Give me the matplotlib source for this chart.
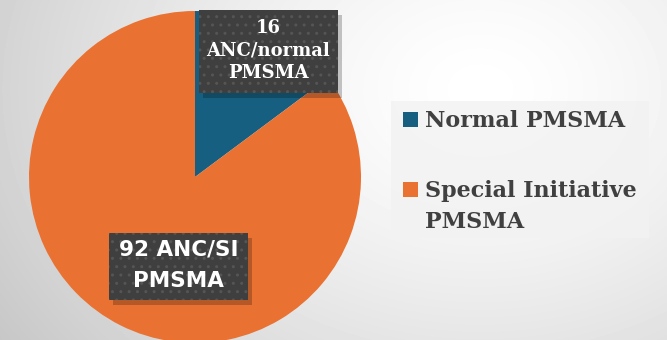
import numpy as np
import matplotlib.pyplot as plt
from matplotlib.patches import Rectangle

labels = ["Normal PMSMA", "Special Initiative\nPMSMA"]
values = [16, 92]
colors = ["#175f80", "#e97132"]
box_texts = ["16\nANC/normal\nPMSMA", "92 ANC/SI\nPMSMA"]

W, H = 667, 340
fig = plt.figure(figsize=(W / 100, H / 100), dpi=100)
ax = fig.add_axes([0, 0, 1, 1])
ax.axis("off")

# radial grey background
yy, xx = np.mgrid[0:H, 0:W]
d = np.hypot(xx - 480, (yy - 250) * 1.3)
d = d / d.max()
bg = 1.0 - 0.22 * d ** 1.4
ax.imshow(bg, cmap="gray", vmin=0, vmax=1, extent=(0, W, H, 0), zorder=0)

# pie
ax.pie(values, colors=colors, startangle=90, counterclock=False,
       center=(195, H - 177), radius=166, frame=False,
       wedgeprops=dict(linewidth=0))
ax.set_xlim(0, W)
ax.set_ylim(0, H)
ax.set_aspect("auto")


def label_box(x0, y0, x1, y1, text, **kw):
    # shadow
    ax.add_patch(Rectangle((x0 + 4, H - y1 - 5), x1 - x0, y1 - y0,
                           facecolor="black", alpha=0.22, linewidth=0, zorder=3))
    ax.add_patch(Rectangle((x0, H - y1), x1 - x0, y1 - y0,
                           facecolor="#3f3f3f", edgecolor="#555555",
                           hatch="..", linewidth=0, zorder=4))
    ax.text((x0 + x1) / 2, H - (y0 + y1) / 2 + 1, text, color="white",
            ha="center", va="center", zorder=5, fontweight="bold", **kw)


label_box(199, 10, 338, 93, box_texts[0], family="DejaVu Serif",
          fontsize=13, linespacing=1.3)
label_box(109, 233, 248, 300, box_texts[1], family="DejaVu Sans",
          fontsize=15.5, linespacing=1.7)

# legend panel
ax.add_patch(Rectangle((391, H - 238), 258, 137, facecolor="#f2f2f2",
                       edgecolor="none", alpha=0.8, zorder=2))
ax.add_patch(Rectangle((403, H - 127), 15, 15, facecolor=colors[0], zorder=3))
ax.add_patch(Rectangle((403, H - 197), 15, 15, facecolor=colors[1], zorder=3))
ax.text(425, H - 127, labels[0], family="DejaVu Serif", fontweight="bold",
        fontsize=16, color="#404040", va="baseline", zorder=3)
ax.text(425, H - 228, labels[1], family="DejaVu Serif", fontweight="bold",
        fontsize=16, color="#404040", va="baseline", linespacing=1.5, zorder=3)

fig.savefig("out.png", dpi=100)
